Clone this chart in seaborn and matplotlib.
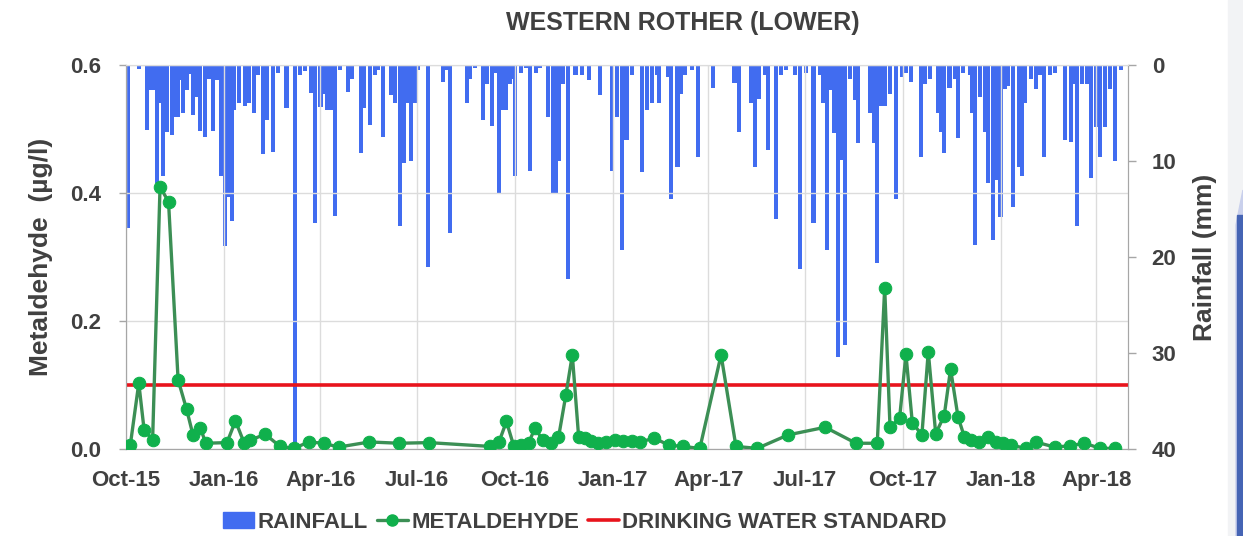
import matplotlib
matplotlib.use("Agg")
import matplotlib.pyplot as plt
import matplotlib.dates as mdates
from matplotlib.patches import Patch, Rectangle, Polygon
from matplotlib.lines import Line2D
import seaborn as sns
import pandas as pd

sns.set_style("white")
plt.rcParams['font.family'] = ['Liberation Sans', 'DejaVu Sans']

# metaldehyde samples (ug/l)
met_dates = ["2015-10-05", "2015-10-13", "2015-10-18", "2015-10-26", "2015-11-02", "2015-11-10",
             "2015-11-19", "2015-11-27", "2015-12-03", "2015-12-10", "2015-12-15", "2016-01-04",
             "2016-01-12", "2016-01-20", "2016-01-26", "2016-02-09", "2016-02-23", "2016-03-07",
             "2016-03-21", "2016-04-04", "2016-04-18", "2016-05-17", "2016-06-14", "2016-07-12",
             "2016-09-08", "2016-09-16", "2016-09-23", "2016-09-30", "2016-10-07", "2016-10-14",
             "2016-10-20", "2016-10-27", "2016-11-04", "2016-11-11", "2016-11-18", "2016-11-24",
             "2016-11-30", "2016-12-06", "2016-12-12", "2016-12-18", "2016-12-26", "2017-01-03",
             "2017-01-11", "2017-01-19", "2017-01-27", "2017-02-09", "2017-02-23", "2017-03-08",
             "2017-03-24", "2017-04-13", "2017-04-27", "2017-05-17", "2017-06-15", "2017-07-20",
             "2017-08-18", "2017-09-07", "2017-09-14", "2017-09-19", "2017-09-28", "2017-10-04",
             "2017-10-10", "2017-10-19", "2017-10-25", "2017-11-01", "2017-11-09", "2017-11-15",
             "2017-11-22", "2017-11-28", "2017-12-04", "2017-12-12", "2017-12-20", "2017-12-28",
             "2018-01-03", "2018-01-11", "2018-01-25", "2018-02-03", "2018-02-21", "2018-03-07",
             "2018-03-21", "2018-04-05", "2018-04-19"]
met_vals = [0.006, 0.103, 0.030, 0.014, 0.410, 0.386,
            0.108, 0.062, 0.022, 0.033, 0.009, 0.010,
            0.044, 0.010, 0.014, 0.023, 0.004, 0.001,
            0.011, 0.009, 0.003, 0.011, 0.009, 0.010,
            0.004, 0.011, 0.043, 0.004, 0.006, 0.010,
            0.033, 0.014, 0.009, 0.018, 0.085, 0.147,
            0.018, 0.017, 0.013, 0.010, 0.011, 0.014,
            0.013, 0.013, 0.011, 0.017, 0.006, 0.004,
            0.001, 0.147, 0.004, 0.001, 0.022, 0.034,
            0.009, 0.009, 0.252, 0.034, 0.048, 0.148,
            0.041, 0.022, 0.152, 0.024, 0.052, 0.125,
            0.050, 0.019, 0.014, 0.011, 0.019, 0.011,
            0.010, 0.006, 0.001, 0.011, 0.003, 0.005,
            0.009, 0.001, 0.001]

# daily rainfall (mm), rain days only
rain_dates = ["2015-10-03", "2015-10-13", "2015-10-21", "2015-10-24", "2015-10-27", "2015-10-30",
              "2015-11-02", "2015-11-05", "2015-11-09", "2015-11-13", "2015-11-16", "2015-11-19",
              "2015-11-22", "2015-11-24", "2015-11-27", "2015-11-30", "2015-12-03", "2015-12-06",
              "2015-12-10", "2015-12-14", "2015-12-18", "2015-12-22", "2015-12-26", "2015-12-29",
              "2016-01-02", "2016-01-06", "2016-01-09", "2016-01-11", "2016-01-15", "2016-01-21",
              "2016-01-25", "2016-01-29", "2016-02-02", "2016-02-07", "2016-02-11", "2016-02-16",
              "2016-02-21", "2016-02-29", "2016-03-08", "2016-03-13", "2016-03-17", "2016-03-23",
              "2016-03-27", "2016-04-01", "2016-04-03", "2016-04-07", "2016-04-11", "2016-04-15",
              "2016-04-19", "2016-04-27", "2016-05-01", "2016-05-09", "2016-05-12", "2016-05-18",
              "2016-05-22", "2016-05-25", "2016-05-30", "2016-06-06", "2016-06-10", "2016-06-15",
              "2016-06-19", "2016-06-22", "2016-06-25", "2016-06-29", "2016-07-02", "2016-07-11",
              "2016-07-25", "2016-07-28", "2016-08-01", "2016-08-17", "2016-08-20", "2016-08-24",
              "2016-09-01", "2016-09-05", "2016-09-09", "2016-09-13", "2016-09-16", "2016-09-20",
              "2016-09-23", "2016-09-26", "2016-09-29", "2016-10-01", "2016-10-07", "2016-10-11",
              "2016-10-15", "2016-10-21", "2016-10-25", "2016-11-01", "2016-11-06", "2016-11-09",
              "2016-11-11", "2016-11-15", "2016-11-20", "2016-11-27", "2016-12-03", "2016-12-10",
              "2016-12-20", "2016-12-31", "2017-01-05", "2017-01-10", "2017-01-14", "2017-01-19",
              "2017-01-29", "2017-02-02", "2017-02-07", "2017-02-12", "2017-02-14", "2017-02-22",
              "2017-02-25", "2017-03-03", "2017-03-06", "2017-03-10", "2017-03-17", "2017-03-22",
              "2017-04-05", "2017-04-25", "2017-04-27", "2017-04-30", "2017-05-11", "2017-05-15",
              "2017-05-19", "2017-05-24", "2017-05-27", "2017-06-04", "2017-06-08", "2017-06-13",
              "2017-06-22", "2017-06-26", "2017-07-02", "2017-07-09", "2017-07-15", "2017-07-18",
              "2017-07-22", "2017-07-25", "2017-07-28", "2017-08-01", "2017-08-04", "2017-08-08",
              "2017-08-12", "2017-08-17", "2017-08-20", "2017-08-31", "2017-09-04", "2017-09-07",
              "2017-09-11", "2017-09-14", "2017-09-19", "2017-09-25", "2017-09-30", "2017-10-04",
              "2017-10-09", "2017-10-18", "2017-10-22", "2017-10-27", "2017-11-03", "2017-11-06",
              "2017-11-09", "2017-11-14", "2017-11-19", "2017-11-22", "2017-11-27", "2017-12-03",
              "2017-12-05", "2017-12-08", "2017-12-13", "2017-12-17", "2017-12-20", "2017-12-25",
              "2017-12-28", "2018-01-01", "2018-01-05", "2018-01-08", "2018-01-13", "2018-01-18",
              "2018-01-21", "2018-01-24", "2018-01-30", "2018-02-03", "2018-02-07", "2018-02-11",
              "2018-02-17", "2018-02-21", "2018-03-03", "2018-03-08", "2018-03-11", "2018-03-14",
              "2018-03-19", "2018-03-23", "2018-03-27", "2018-04-01", "2018-04-05", "2018-04-09",
              "2018-04-14", "2018-04-19", "2018-04-24"]
rain_mm = [17.0, 0.4, 6.8, 2.6, 2.6, 12.3,
           4.0, 11.6, 7.0, 7.3, 5.4, 5.4,
           1.6, 5.0, 2.6, 0.9, 5.2, 3.3,
           6.9, 7.5, 1.5, 6.9, 1.6, 11.6,
           18.9, 13.7, 16.3, 4.7, 4.0, 4.3,
           4.0, 5.0, 1.0, 9.3, 5.7, 9.1,
           0.8, 4.5, 40.0, 1.0, 0.6, 2.9,
           16.5, 4.4, 3.0, 4.7, 4.7, 15.7,
           0.5, 2.8, 1.5, 9.2, 4.5, 6.2,
           1.0, 0.5, 7.5, 3.1, 4.0, 16.8,
           10.2, 4.0, 10.0, 4.0, 0.5, 21.0,
           1.8, 0.5, 17.5, 4.0, 1.5, 0.3,
           5.7, 2.0, 6.4, 0.8, 13.4, 4.7,
           4.7, 2.0, 1.5, 11.6, 0.8, 0.3,
           11.0, 0.8, 0.3, 5.4, 13.4, 13.4,
           10.0, 2.0, 22.3, 1.0, 1.0, 1.6,
           3.1, 11.0, 5.4, 19.3, 7.8, 1.0,
           11.1, 4.7, 4.0, 1.0, 4.0, 1.2,
           14.0, 10.6, 3.0, 1.0, 0.5, 9.6,
           2.4, 1.9, 1.9, 7.0, 4.0, 10.6,
           3.5, 1.0, 8.9, 16.0, 1.0, 0.5,
           1.0, 21.3, 0.8, 16.5, 1.0, 4.0,
           19.3, 2.6, 7.1, 30.4, 9.9, 29.2,
           1.5, 3.6, 8.1, 5.0, 8.1, 20.6,
           4.3, 4.3, 3.0, 14.0, 1.2, 0.8,
           1.8, 9.6, 2.0, 1.5, 5.0, 7.0,
           9.2, 2.4, 1.5, 7.6, 0.8, 1.0,
           5.0, 18.8, 3.3, 7.0, 12.3, 18.2,
           12.0, 15.8, 2.5, 2.2, 14.8, 10.6,
           11.6, 4.0, 1.5, 2.5, 1.0, 9.6,
           1.0, 0.8, 7.8, 8.0, 2.0, 16.8,
           2.0, 2.0, 11.8, 6.5, 9.6, 6.5,
           2.5, 10.0, 0.5]

dws = 0.1  # drinking water standard

met = pd.DataFrame({"date": pd.to_datetime(met_dates), "val": met_vals})
rain = pd.DataFrame({"date": pd.to_datetime(rain_dates), "mm": rain_mm})

txt = "#404040"
blue = "#416cf0"
green_line = "#3c8f55"
green_dot = "#10b04c"
red = "#e8141c"

fig = plt.figure(figsize=(12.43, 5.36), dpi=100)
ax = fig.add_axes([0.1014, 0.1623, 0.8061, 0.7164])
ax2 = ax.twinx()

ax2.bar(rain["date"], rain["mm"], width=3.8, color=blue, linewidth=0, align="center")
ax2.set_ylim(40, 0)
ax2.set_yticks([0, 10, 20, 30, 40])

ax.axhline(dws, color=red, lw=2.6, zorder=2)
sns.lineplot(data=met, x="date", y="val", ax=ax, color=green_line, lw=2.4,
             marker="o", markersize=9, markerfacecolor=green_dot, markeredgecolor=green_dot,
             zorder=3)

ax.set_zorder(ax2.get_zorder() + 1)
ax.patch.set_visible(False)

ax.set_xlim(pd.Timestamp("2015-10-01"), pd.Timestamp("2018-05-01"))
ax.set_ylim(0, 0.6)
ax.set_yticks([0, 0.2, 0.4, 0.6])
ax.yaxis.set_major_formatter(plt.FormatStrFormatter("%.1f"))
ax.xaxis.set_major_locator(mdates.MonthLocator(bymonth=[1, 4, 7, 10]))
ax.xaxis.set_major_formatter(mdates.DateFormatter("%b-%y"))

ax2.grid(False)
ax.grid(True, color="#dcdcdc", lw=1)
for s in ["left", "bottom", "right", "top"]:
    ax.spines[s].set_color("#a6a6a6")
    ax2.spines[s].set_color("#a6a6a6")
ax.spines["top"].set_color("#dcdcdc")
ax2.spines["top"].set_color("#dcdcdc")

ax.tick_params(axis="x", labelsize=16, colors=txt, length=6, width=1, color="#a6a6a6", pad=9)
ax.tick_params(axis="y", labelsize=16, colors=txt, length=5, width=1, color="#a6a6a6", pad=13)
ax2.tick_params(axis="y", labelsize=16, colors=txt, length=6, width=1, color="#a6a6a6", pad=11)
for lab in ax.get_xticklabels() + ax.get_yticklabels() + ax2.get_yticklabels():
    lab.set_fontweight("bold")

ax.set_xlabel("")
ax.set_ylabel("Metaldehyde  (µg/l)", fontsize=19, fontweight="bold", color=txt, labelpad=12)
ax2.set_ylabel("Rainfall (mm)", fontsize=19, fontweight="bold", color=txt, labelpad=12)
ax2.yaxis.label.set_rotation(90)

fig.text(0.549, 0.958, "WESTERN ROTHER (LOWER)", ha="center", va="center",
         fontsize=18, fontweight="bold", color=txt)

handles = [Patch(color=blue),
           Line2D([], [], color=green_line, lw=2.4, marker="o", markersize=8,
                  markerfacecolor=green_dot, markeredgecolor=green_dot),
           Line2D([], [], color=red, lw=2.6)]
labels = ["RAINFALL", "METALDEHYDE", "DRINKING WATER STANDARD"]
leg = fig.legend(handles, labels, loc="center", bbox_to_anchor=(0.4706, 0.026), ncol=3,
                 frameon=False, handlelength=1.4, handletextpad=0.15, columnspacing=0.4,
                 prop={"size": 16, "weight": "bold"})
for t in leg.get_texts():
    t.set_color(txt)

# slide decoration at right edge
fig.patches.append(Rectangle((1228 / 1243, 0), 15 / 1243, 1, transform=fig.transFigure,
                             color="#f2f3f5", zorder=0))
fig.patches.append(Polygon([(1236 / 1243, 1 - 225 / 536), (1243 / 1243, 1 - 190 / 536),
                            (1243 / 1243, 0), (1236 / 1243, 0)], closed=True,
                           transform=fig.transFigure, color="#c9d0ec", zorder=1))
fig.patches.append(Rectangle((1237 / 1243, 0), 6 / 1243, 1 - 215 / 536, transform=fig.transFigure,
                             color="#4564b4", zorder=2))

fig.savefig("out.png", dpi=100)
